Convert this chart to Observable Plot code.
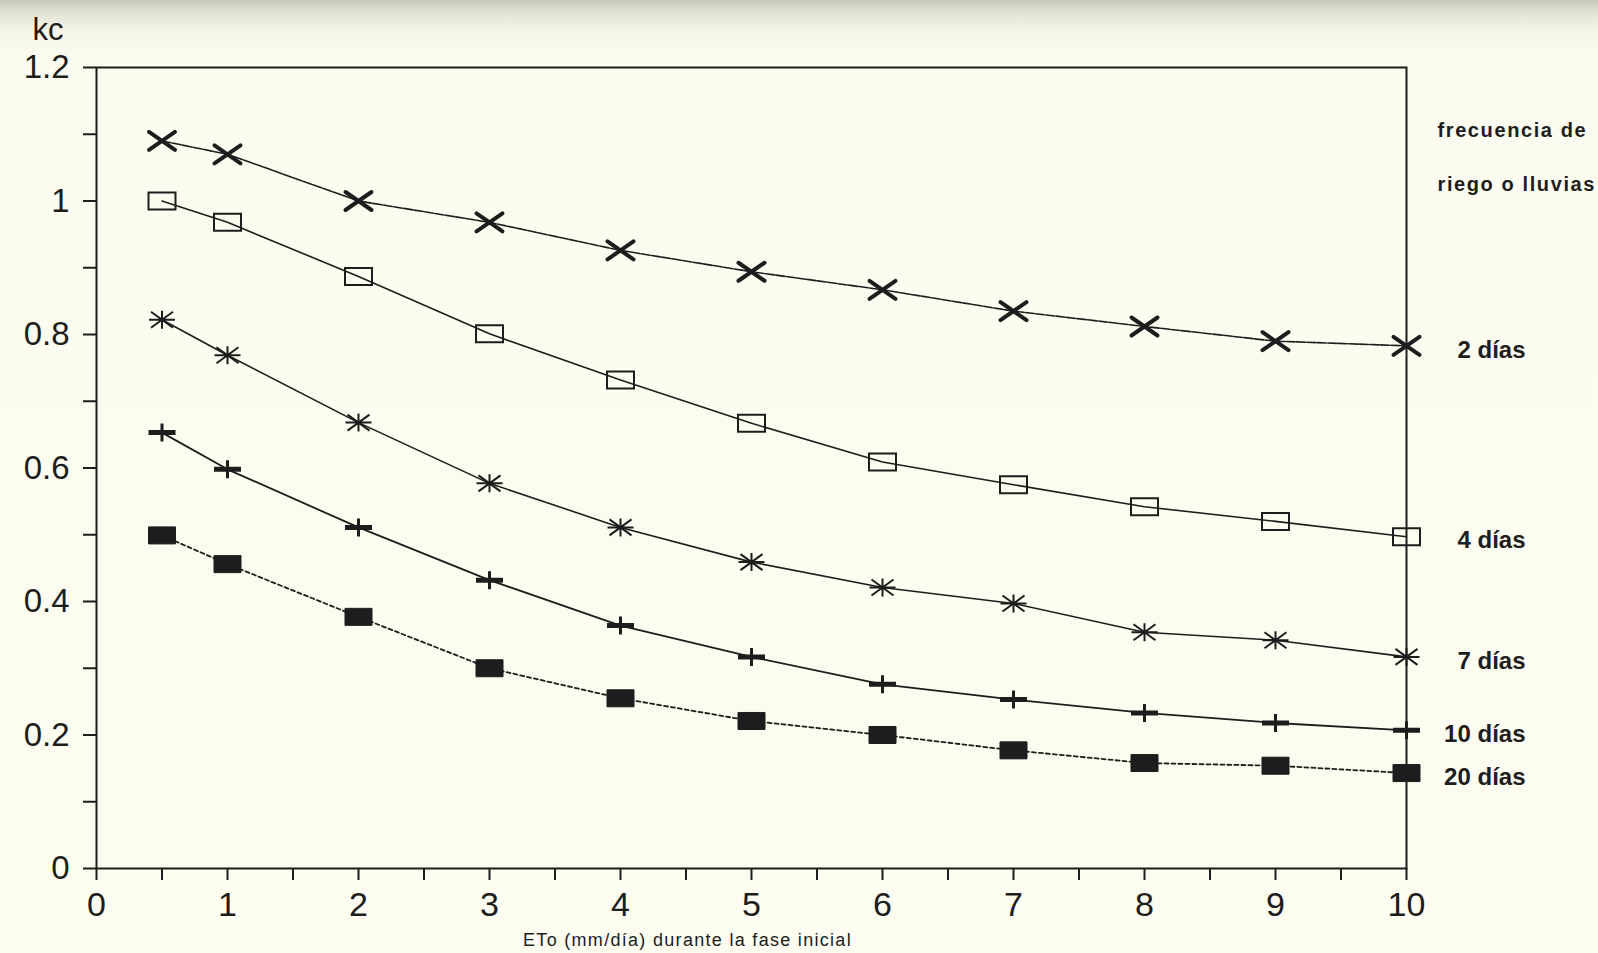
<!DOCTYPE html>
<html>
<head>
<meta charset="utf-8">
<script src="https://cdn.jsdelivr.net/npm/d3@7"></script>
<script src="https://cdn.jsdelivr.net/npm/@observablehq/plot@0.6"></script>
<style>
  html, body { margin: 0; padding: 0; overflow: hidden; }
  body {
    width: 1598px; height: 953px;
    background: linear-gradient(to bottom, #c8c8bd 0px, #e4e4d7 14px, #f6f6ea 34px, #fbfbef 60px, #fcfcf0 100%);
  }
</style>
</head>
<body>
<div id="chart"></div>
<script>
// ---- data ----
const eto = [0.5, 1, 2, 3, 4, 5, 6, 7, 8, 9, 10];
const kc2  = [1.090, 1.070, 1.000, 0.968, 0.926, 0.894, 0.867, 0.835, 0.812, 0.790, 0.783];
const kc4  = [1.000, 0.968, 0.887, 0.801, 0.732, 0.667, 0.609, 0.575, 0.542, 0.520, 0.497];
const kc7  = [0.822, 0.769, 0.668, 0.577, 0.511, 0.459, 0.421, 0.397, 0.354, 0.342, 0.317];
const kc10 = [0.653, 0.598, 0.511, 0.432, 0.364, 0.317, 0.276, 0.253, 0.233, 0.218, 0.207];
const kc20 = [0.499, 0.456, 0.377, 0.300, 0.255, 0.221, 0.200, 0.177, 0.158, 0.154, 0.143];
const seriesLabels = ["2 días", "4 días", "7 días", "10 días", "20 días"];
const xMajorTicks = [0, 1, 2, 3, 4, 5, 6, 7, 8, 9, 10];
const xMinorTicks = [0.5, 1.5, 2.5, 3.5, 4.5, 5.5, 6.5, 7.5, 8.5, 9.5];
const yMajorTicks = [0, 0.2, 0.4, 0.6, 0.8, 1, 1.2];
const yMinorTicks = [0.1, 0.3, 0.5, 0.7, 0.9, 1.1];
const yTitle = "kc";
const xTitle = "ETo (mm/día) durante la fase inicial";
const legendTitle = ["frecuencia de", "riego o lluvias"];

const seriesValues = [kc2, kc4, kc7, kc10, kc20];
const rows = seriesValues.map((vals, s) => vals.map((v, i) => ({x: eto[i], y: v, s: seriesLabels[s]})));
const ends = rows.map(r => r[r.length - 1]);

const ink = "#1d1d1d";

// ---- custom marker shapes ----
const symTimes = {draw(c) { c.moveTo(-13, -9); c.lineTo(13, 9); c.moveTo(-13, 9); c.lineTo(13, -9); }};
const symRect  = {draw(c) { c.rect(-13.5, -8.5, 27, 17); }};
const symStar  = {draw(c) {
  c.moveTo(-13, 0); c.lineTo(13, 0);
  c.moveTo(0, -9); c.lineTo(0, 9);
  c.moveTo(-11, -8); c.lineTo(11, 8);
  c.moveTo(-11, 8); c.lineTo(11, -8);
}};
const symPlus  = {draw(c) { c.rect(-13.5, -2.5, 27, 5); c.rect(-1.5, -9, 3, 18); }};

const font = "'Liberation Sans', Arial, sans-serif";

const chart = Plot.plot({
  width: 1598,
  height: 953,
  marginLeft: 96,
  marginRight: 192,
  marginTop: 67,
  marginBottom: 85,
  style: {background: "transparent", fontFamily: font, color: ink},
  x: {domain: [0, 10]},
  y: {domain: [0, 1.2]},
  marks: [
    Plot.frame({stroke: ink, strokeWidth: 2}),
    Plot.axisX({ticks: xMajorTicks, tickSize: 12, tickPadding: 11, fontSize: 34, strokeWidth: 2, label: null, tickFormat: d => String(d)}),
    Plot.axisX({ticks: xMinorTicks, tickSize: 12, tickFormat: () => "", strokeWidth: 2, label: null}),
    Plot.axisY({ticks: yMajorTicks, tickSize: 13, tickPadding: 14, fontSize: 33, strokeWidth: 2, label: null, tickFormat: d => String(d)}),
    Plot.axisY({ticks: yMinorTicks, tickSize: 13, tickFormat: () => "", strokeWidth: 2, label: null}),

    Plot.line(rows[0], {x: "x", y: "y", stroke: ink, strokeWidth: 1.6, strokeDasharray: "9,1.5"}),
    Plot.line(rows[1], {x: "x", y: "y", stroke: ink, strokeWidth: 1.6}),
    Plot.line(rows[2], {x: "x", y: "y", stroke: ink, strokeWidth: 1.6}),
    Plot.line(rows[3], {x: "x", y: "y", stroke: ink, strokeWidth: 1.8}),
    Plot.line(rows[4], {x: "x", y: "y", stroke: ink, strokeWidth: 1.8, strokeDasharray: "4,3"}),

    Plot.dot(rows[0], {x: "x", y: "y", symbol: symTimes, fill: "none", stroke: ink, strokeWidth: 4, strokeLinecap: "round"}),
    Plot.dot(rows[1], {x: "x", y: "y", symbol: symRect, fill: "none", stroke: ink, strokeWidth: 2}),
    Plot.dot(rows[2], {x: "x", y: "y", symbol: symStar, fill: "none", stroke: ink, strokeWidth: 2}),
    Plot.dot(rows[3], {x: "x", y: "y", symbol: symPlus, fill: ink, stroke: "none"}),
    Plot.dot(rows[4], {x: "x", y: "y", symbol: symRect, fill: ink, stroke: ink, strokeWidth: 1}),

    Plot.text(ends, {x: "x", y: "y", text: "s", textAnchor: "end", lineAnchor: "middle", dx: 119, dy: 4, fontSize: 24, fontWeight: "bold", fill: ink}),

    Plot.text([legendTitle[0]], {frameAnchor: "top-right", textAnchor: "start", lineAnchor: "middle", dx: 31, dy: 63, fontSize: 20, fontWeight: "bold", fill: ink}),
    Plot.text([legendTitle[1]], {frameAnchor: "top-right", textAnchor: "start", lineAnchor: "middle", dx: 31, dy: 117, fontSize: 20, fontWeight: "bold", fill: ink}),
    Plot.text([yTitle], {frameAnchor: "top-left", textAnchor: "start", lineAnchor: "middle", dx: -64, dy: -37, fontSize: 31, fill: ink}),
    Plot.text([xTitle], {frameAnchor: "bottom-left", textAnchor: "middle", lineAnchor: "middle", dx: 591, dy: 72, fontSize: 18, fill: ink})
  ]
});
document.getElementById("chart").appendChild(chart);

// letter spacing to mimic the wide plotter lettering
d3.select(chart).selectAll("text")
  .filter(function () { return legendTitle.includes(this.textContent); })
  .style("letter-spacing", "1.6px");
d3.select(chart).selectAll("text")
  .filter(function () { return this.textContent === xTitle; })
  .style("letter-spacing", "1.3px");
</script>
</body>
</html>
